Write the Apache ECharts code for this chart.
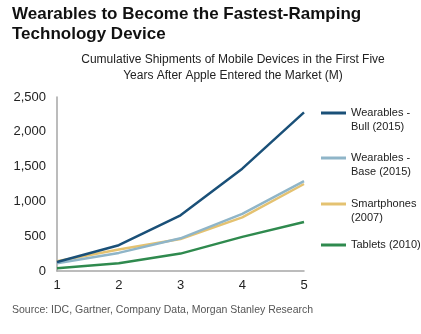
<!DOCTYPE html>
<html><head><meta charset="utf-8">
<script src="https://cdn.jsdelivr.net/npm/echarts@6/dist/echarts.min.js"></script>
<style>html,body{margin:0;padding:0;background:#fff}#c{width:421px;height:334px}</style>
</head><body><div id="c"></div>
<script>
const years = ['1', '2', '3', '4', '5'];
const seriesNames = ['Wearables -\nBull (2015)', 'Wearables -\nBase (2015)', 'Smartphones\n(2007)', 'Tablets (2010)'];
const wearablesBull = [130, 370, 800, 1470, 2280];
const wearablesBase = [110, 260, 470, 820, 1290];
const smartphones = [140, 310, 460, 770, 1250];
const tablets = [40, 110, 250, 490, 705];
const yTicks = [0, 500, 1000, 1500, 2000, 2500];

const colors = ['#1a5078', '#8fb5c8', '#e4c271', '#2f8a4e'];
const values = [wearablesBull, wearablesBase, smartphones, tablets];
const FF = '"Liberation Sans", Arial, sans-serif';
const chart = echarts.init(document.getElementById('c'), null, {renderer: 'canvas'});
const legendTops = [87, 132, 178, 233];
const legends = seriesNames.map((n, i) => ({
  data: [n], left: 316, top: legendTops[i], orient: 'vertical',
  icon: 'rect', itemWidth: 25, itemHeight: 3, itemGap: 0,
  selectedMode: false,
  formatter: name => (name.indexOf('\n') >= 0 ? '\n' + name : name),
  textStyle: {fontFamily: FF, fontSize: 11, color: '#222', lineHeight: 14}
}));
chart.setOption({
  animation: false,
  color: colors,
  title: [
    {text: 'Wearables to Become the Fastest-Ramping\nTechnology Device', left: 7, top: -1,
     textStyle: {fontFamily: FF, fontSize: 17, fontWeight: 'bold', color: '#111', lineHeight: 20}},
    {text: 'Cumulative Shipments of Mobile Devices in the First Five\nYears After Apple Entered the Market (M)',
     left: 228, top: 47, textAlign: 'center',
     textStyle: {fontFamily: FF, fontSize: 12, fontWeight: 'normal', color: '#222', lineHeight: 16}},
    {text: 'Source: IDC, Gartner, Company Data, Morgan Stanley Research', left: 7, top: 300,
     textStyle: {fontFamily: FF, fontSize: 10.5, fontWeight: 'normal', color: '#555'}}
  ],
  legend: legends,
  grid: {left: 57, right: 117, top: 97, bottom: 63, containLabel: false},
  xAxis: {
    type: 'category', data: years, boundaryGap: false,
    axisLine: {lineStyle: {color: '#a6a6a6', width: 1.5}},
    axisTick: {show: false},
    axisLabel: {fontFamily: FF, fontSize: 13, color: '#222', margin: 8}
  },
  yAxis: {
    type: 'value', min: yTicks[0], max: yTicks[yTicks.length - 1], interval: 500,
    axisLine: {show: true, lineStyle: {color: '#a6a6a6', width: 1.5}},
    axisTick: {show: false},
    splitLine: {show: false},
    axisLabel: {fontFamily: FF, fontSize: 13, color: '#222', margin: 11,
      formatter: v => v.toLocaleString('en-US')}
  },
  series: seriesNames.map((n, i) => ({
    name: n, type: 'line', data: values[i], symbol: 'none', z: 4 - i,
    lineStyle: {width: 2.5, color: colors[i]}
  }))
});
</script></body></html>
